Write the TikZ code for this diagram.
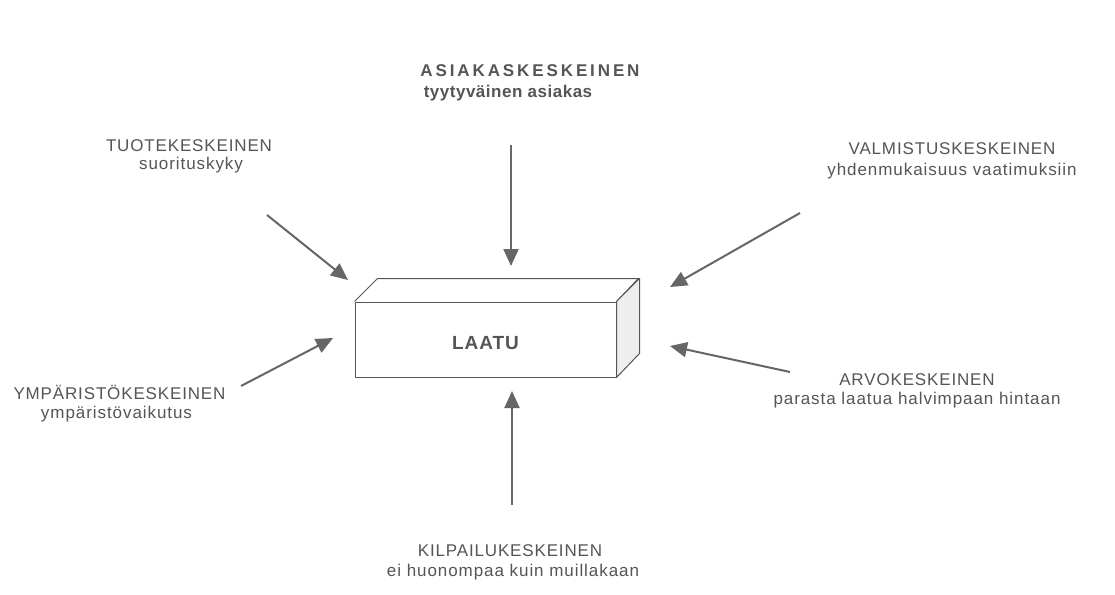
\documentclass[tikz,border=0pt]{standalone}
\usepackage{fontspec}
\setmainfont{Liberation Sans}
\newfontfamily\capsfont[LetterSpace=5]{Liberation Sans}
\newfontfamily\lowfont[LetterSpace=5.5]{Liberation Sans}
\newfontfamily\bcapsfont[LetterSpace=17]{Liberation Sans}
\newfontfamily\blowfont[LetterSpace=3]{Liberation Sans}
\usetikzlibrary{arrows.meta}
\definecolor{txt}{HTML}{555555}
\definecolor{arr}{HTML}{666666}
\definecolor{edge}{HTML}{555555}
\definecolor{sideface}{HTML}{EEEEEE}
\begin{document}
\begin{tikzpicture}[x=1pt,y=-1pt,
  lbl/.style={font=\capsfont\fontsize{17}{20}\selectfont, text=txt, anchor=base, inner sep=0pt},
  sub/.style={font=\lowfont\fontsize{17}{20}\selectfont, text=txt, anchor=base, inner sep=0pt},
  blbl/.style={font=\bcapsfont\bfseries\fontsize{17}{20}\selectfont, text=txt, anchor=base, inner sep=0pt},
  bsub/.style={font=\blowfont\bfseries\fontsize{17}{20}\selectfont, text=txt, anchor=base, inner sep=0pt},
  arrowline/.style={draw=arr, line width=2pt, -{Triangle[length=17pt,width=15pt]}},
  boxedge/.style={draw=edge, line width=1pt, line join=round}
]
\useasboundingbox[fill=white] (0,0) rectangle (1115,594);

% box
\node[boxedge, fill=white, minimum width=261pt, minimum height=75pt, inner sep=0pt,
      text height=19pt, text depth=0pt, text=txt,
      font=\capsfont\bfseries\fontsize{19}{22}\selectfont] (laatu) at (485.5,339.5) {LAATU};
\draw[boxedge] (laatu.north west) -- ++(23,-23) -- ++(261,0) -- (laatu.north east);
\filldraw[boxedge, fill=sideface] (laatu.north east) -- ++(23,-23) -- ++(0,75) -- (laatu.south east) -- cycle;

% labels
\node[blbl] (asiakas) at (530,76) {ASIAKASKESKEINEN};
\node[bsub] (asiakas2) at (508,97) {tyytyväinen asiakas};
\node[lbl] (tuote) at (189,151) {TUOTEKESKEINEN};
\node[sub] (tuote2) at (191,169) {suorituskyky};
\node[lbl] (valm) at (952,154) {VALMISTUSKESKEINEN};
\node[sub] (valm2) at (952,175) {yhdenmukaisuus vaatimuksiin};
\node[lbl] (ymp) at (119.5,399) {YMPÄRISTÖKESKEINEN};
\node[sub] (ymp2) at (116.5,418) {ympäristövaikutus};
\node[lbl] (arvo) at (917,385) {ARVOKESKEINEN};
\node[sub] (arvo2) at (917,404) {parasta laatua halvimpaan hintaan};
\node[lbl] (kilp) at (510,556) {KILPAILUKESKEINEN};
\node[sub] (kilp2) at (513,576) {ei huonompaa kuin muillakaan};

% arrows
\coordinate (a1) at (511,145); \coordinate (b1) at (511,266);
\coordinate (a2) at (267,215); \coordinate (b2) at (348,280);
\coordinate (a3) at (800,213); \coordinate (b3) at (670,287);
\coordinate (a4) at (241,386); \coordinate (b4) at (333,338);
\coordinate (a5) at (790,372); \coordinate (b5) at (670,346);
\coordinate (a6) at (512,505); \coordinate (b6) at (512,391);
\draw[arrowline] (a1) -- (b1);
\draw[arrowline] (a2) -- (b2);
\draw[arrowline] (a3) -- (b3);
\draw[arrowline] (a4) -- (b4);
\draw[arrowline] (a5) -- (b5);
\draw[arrowline] (a6) -- (b6);
\end{tikzpicture}
\end{document}
